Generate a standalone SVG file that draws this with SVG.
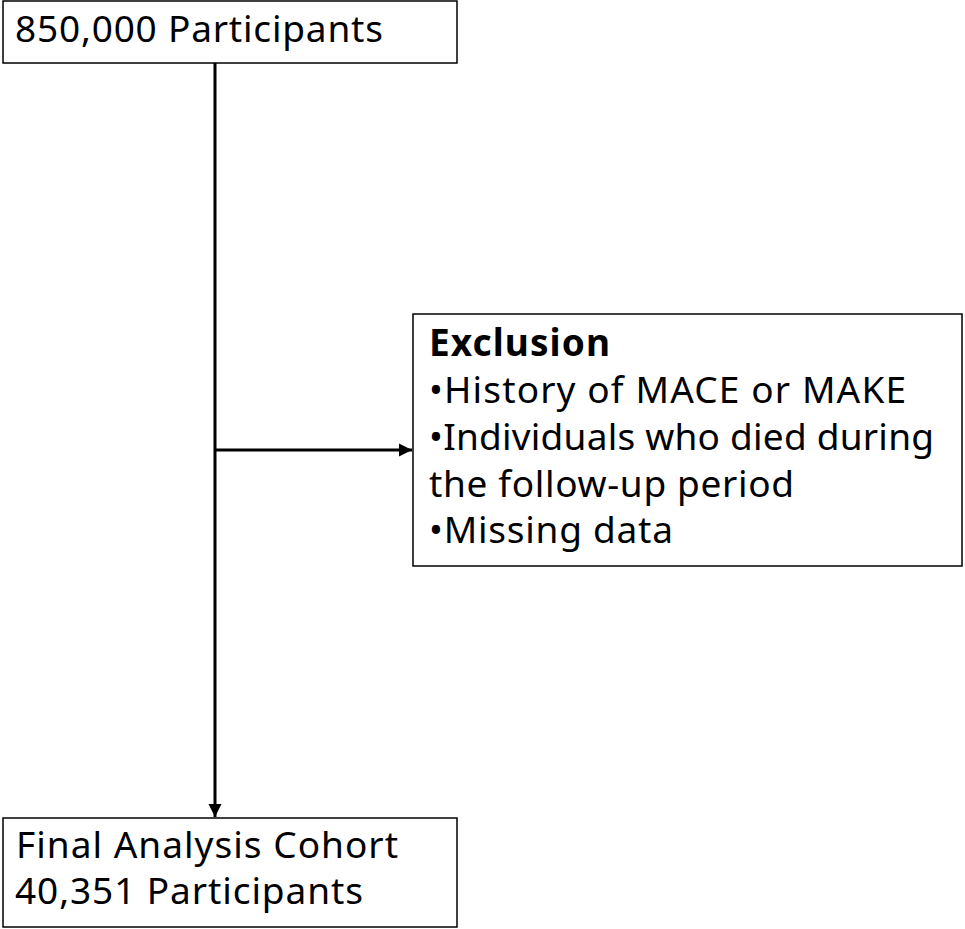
<svg xmlns="http://www.w3.org/2000/svg" width="965" height="929" viewBox="0 0 965 929">
<style>
.box{fill:#fff;stroke:#000;stroke-width:1.5}
.t{font-family:"Noto Sans","Noto Sans CJK JP",sans-serif;font-size:37px;fill:#000}
.b{font-weight:bold}
.c{stroke:#000;stroke-width:3;fill:none}
</style>
<defs>
<marker id="ah" viewBox="0 0 10 10" refX="10" refY="5" markerWidth="4.5" markerHeight="4.5" markerUnits="strokeWidth" orient="auto">
<path d="M0,0 L10,5 L0,10 z" fill="#000"/>
</marker>
</defs>
<rect width="965" height="929" fill="#fff"/>
<g id="connectors">
<line class="c" x1="215" y1="63" x2="215" y2="817" marker-end="url(#ah)"/>
<line class="c" x1="215" y1="450" x2="412" y2="450" marker-end="url(#ah)"/>
</g>
<g id="start">
<rect class="box" x="3" y="1" width="454" height="62"/>
<text class="t" x="15" y="42" textLength="368">850,000 Participants</text>
</g>
<g id="exclusion">
<rect class="box" x="413" y="314" width="549" height="252"/>
<text class="t b" x="429" y="356" textLength="181">Exclusion</text>
<text class="t" x="429" y="403" textLength="477">•History of MACE or MAKE</text>
<text class="t" x="429" y="450" textLength="505">•Individuals who died during</text>
<text class="t" x="429" y="497" textLength="365">the follow-up period</text>
<text class="t" x="429" y="543" textLength="244">•Missing data</text>
</g>
<g id="final">
<rect class="box" x="3" y="818" width="454" height="109"/>
<text class="t" x="16" y="858" textLength="382">Final Analysis Cohort</text>
<text class="t" x="15" y="904" textLength="348">40,351 Participants</text>
</g>
</svg>
